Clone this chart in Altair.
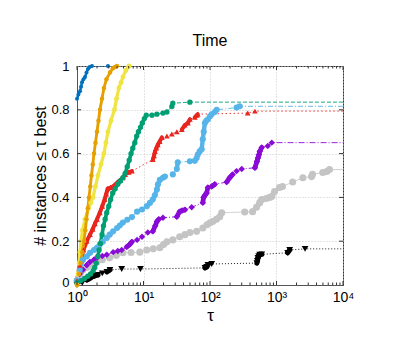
import math
import altair as alt
import pandas as pd

# ---------------- data ----------------
names = ["gray", "black", "purple", "sky", "red", "green", "yellow", "orange", "blue"]
colors = ["#c4c4c4", "#000000", "#8a0ad6", "#56b4e9", "#e8251e", "#009e73", "#f0e442", "#e69f00", "#0072bd"]
dashes = [[1, 0], [1, 2], [6, 2, 1, 2], [5, 2, 1, 2], [1.5, 2.5], [4, 2], [1, 0], [1, 0], [1, 0]]
shapes = ["circle", "triangle-down", "diamond", "circle", "triangle-up", "circle", "circle", "circle", "circle"]
point_sizes = [50, 16, 24, 50, 20, 20, 22, 22, 22]
band_widths = [5.5, 2.5, 4, 5.5, 4, 4.5, 5.5, 5.5, 4]

blue_tau = [1.0, 1.05, 1.11, 1.15, 1.19, 1.25, 1.32, 1.39, 1.46, 1.55, 1.68, 2.92]
blue_val = [0.85, 0.87, 0.885, 0.905, 0.926, 0.94, 0.95, 0.97, 0.986, 0.995, 1.0, 1.0]

orange_tau = [1.0, 1.072, 1.129, 1.201, 1.274, 1.332, 1.389, 1.453, 1.514, 1.584, 1.651, 1.727,
              1.8, 1.896, 1.997, 2.103, 2.215, 2.374, 2.544, 2.773, 3.13, 3.47, 3.72, 3.99]
orange_val = [0, .05, .1, .15, .2, .25, .3, .35, .4, .45, .5, .55,
              .6, .65, .7, .75, .8, .85, .9, .94, .97, .99, .995, 1.0]

yellow_tau = [1.0, 1.035, 1.072, 1.109, 1.148, 1.209, 1.319, 1.489, 1.61, 1.739, 1.896, 2.067,
              2.293, 2.544, 2.725, 2.921, 3.24, 3.66, 3.92, 4.27, 4.6, 4.91, 5.44, 6.04]
yellow_val = [0, .05, .1, .15, .2, .25, .3, .35, .375, .4, .45, .5,
              .55, .6, .65, .7, .75, .8, .85, .9, .925, .95, .98, 1.0]

green_tau = [1.0, 1.15, 1.3, 1.45, 1.6, 1.75, 1.85, 1.95, 2.05, 2.15, 2.25, 2.38, 2.5, 2.65, 2.8,
             3.0, 3.2, 3.45, 3.75, 4.1, 4.5, 4.9, 5.3, 5.7, 6.1, 6.5, 6.9, 7.4, 7.9, 8.4, 9.0,
             9.6, 10.3, 11.0, 13.4, 15.9, 19.6, 22.5, 26.7, 27.6, 49.8]
green_val = [0.01, 0.02, 0.03, 0.04, 0.05, 0.065, 0.08, 0.1, 0.13, 0.16, 0.19, 0.23, 0.27, 0.3, 0.33,
             0.36, 0.39, 0.42, 0.44, 0.46, 0.475, 0.49, 0.51, 0.54, 0.57, 0.6, 0.625, 0.65, 0.68, 0.7, 0.72,
             0.74, 0.76, 0.775, 0.775, 0.78, 0.785, 0.79, 0.815, 0.83, 0.835]

red_tau = [1.0, 1.1, 1.25, 1.4, 1.57, 1.72, 1.86, 2.0, 2.2, 2.4, 2.6, 2.75, 2.9, 3.2, 3.5, 3.8, 4.1,
           4.5, 4.9, 5.3, 6.0, 6.7, 13.8, 14.4, 14.9, 15.6, 16.4, 17.5, 18.9, 22.5, 26.7, 31.7, 37.7,
           41.9, 46.5, 49.8, 59.2, 63.3, 65.5, 369.0, 474.0]
red_val = [0.02, 0.09, 0.16, 0.2, 0.23, 0.255, 0.28, 0.3, 0.33, 0.36, 0.39, 0.415, 0.44, 0.445, 0.45,
           0.46, 0.47, 0.48, 0.49, 0.505, 0.515, 0.52, 0.573, 0.59, 0.61, 0.625, 0.64, 0.655, 0.674,
           0.68, 0.69, 0.70, 0.71, 0.73, 0.74, 0.757, 0.766, 0.775, 0.78, 0.785, 0.794]

sky_tau = [1.0, 1.1, 1.23, 1.4, 1.57, 1.8, 2.0, 2.2, 2.45, 2.8, 3.1, 3.5, 4.0, 4.4, 4.9, 5.7, 6.7,
           8.0, 9.5, 11.2, 12.5, 13.8, 14.8, 15.9, 16.5, 17.6, 19.6, 21.0, 27.6, 31.7, 32.8, 49.8,
           59.0, 63.0, 65.5, 70.0, 75.0, 77.8, 80.5, 83.7, 88.0, 93.0, 100.0, 106.0, 118.0, 126.0,
           251.0, 280.0]
sky_val = [0.02, 0.07, 0.115, 0.13, 0.147, 0.16, 0.17, 0.185, 0.197, 0.215, 0.23, 0.245, 0.26, 0.272,
           0.285, 0.298, 0.31, 0.335, 0.345, 0.36, 0.375, 0.39, 0.41, 0.436, 0.46, 0.48, 0.49, 0.495,
           0.505, 0.53, 0.56, 0.565, 0.567, 0.58, 0.596, 0.61, 0.62, 0.665, 0.7, 0.74, 0.75, 0.757,
           0.77, 0.78, 0.79, 0.80, 0.81, 0.816]

purple_tau = [1.0, 1.1, 1.23, 1.4, 1.57, 1.8, 2.0, 2.4, 2.8, 3.5, 4.1, 4.7, 5.6, 6.2, 6.7, 8.0, 9.5,
              11.6, 13.8, 15.0, 15.9, 17.0, 19.6, 31.7, 35.0, 38.0, 42.0, 53.0, 78.0, 80.0, 84.0,
              89.0, 93.0, 106.0, 118.0, 178.0, 198.0, 219.0, 251.0, 300.0, 474.0, 508.0, 526.0,
              545.0, 560.0, 600.0, 738.0, 849.0]
purple_val = [0.02, 0.05, 0.07, 0.09, 0.105, 0.115, 0.124, 0.132, 0.138, 0.15, 0.155, 0.16, 0.174,
              0.185, 0.197, 0.206, 0.22, 0.24, 0.245, 0.27, 0.29, 0.3, 0.307, 0.312, 0.335, 0.34,
              0.344, 0.355, 0.376, 0.40, 0.41, 0.42, 0.445, 0.45, 0.46, 0.47, 0.49, 0.505, 0.52,
              0.53, 0.535, 0.564, 0.58, 0.595, 0.61, 0.628, 0.635, 0.65]

gray_tau = [1.0, 1.1, 1.23, 1.4, 1.57, 1.8, 2.0, 2.4, 3.1, 3.9, 4.9, 6.5, 8.8, 11.2, 14.0, 17.6, 20.0,
            22.5, 27.6, 35.0, 42.0, 50.0, 63.0, 78.0, 90.0, 100.0, 110.0, 125.0, 140.0, 150.0, 333.0,
            437.0, 500.0, 560.0, 600.0, 700.0, 790.0, 849.0, 935.0, 1110.0, 1230.0, 1750.0, 2490.0,
            3360.0, 3480.0, 4970.0, 5700.0, 6260.0]
gray_val = [0.02, 0.045, 0.07, 0.08, 0.09, 0.1, 0.105, 0.115, 0.124, 0.135, 0.147, 0.148, 0.15, 0.16,
            0.165, 0.17, 0.185, 0.197, 0.206, 0.22, 0.23, 0.24, 0.245, 0.26, 0.275, 0.284, 0.29, 0.3,
            0.312, 0.33, 0.333, 0.335, 0.355, 0.376, 0.39, 0.395, 0.4, 0.404, 0.427, 0.445, 0.45,
            0.47, 0.49, 0.495, 0.505, 0.514, 0.518, 0.527]

black_tau = [1.0, 1.2, 1.41, 1.55, 1.68, 1.85, 2.07, 2.4, 2.82, 3.13, 4.7, 9.0, 84.0, 89.0, 93.0,
             106.0, 508.0, 515.0, 526.0, 540.0, 560.0, 600.0, 1470.0, 1580.0, 2690.0]
black_val = [0.0, 0.01, 0.023, 0.03, 0.037, 0.042, 0.046, 0.053, 0.06, 0.069, 0.073, 0.073, 0.078,
             0.083, 0.092, 0.096, 0.10, 0.11, 0.124, 0.132, 0.138, 0.14, 0.147, 0.16, 0.165]

x_ticks = [1, 10, 100, 1000, 10000]
x_labels = ["10⁰", "10¹", "10²", "10³", "10⁴"]
y_ticks = [0, 0.2, 0.4, 0.6, 0.8, 1.0]

series_data = {
    "gray": (gray_tau, gray_val), "black": (black_tau, black_val),
    "purple": (purple_tau, purple_val), "sky": (sky_tau, sky_val),
    "red": (red_tau, red_val), "green": (green_tau, green_val),
    "yellow": (yellow_tau, yellow_val), "orange": (orange_tau, orange_val),
    "blue": (blue_tau, blue_val),
}

# ---------------- tables ----------------
TAU_MAX = x_ticks[-1]
DENSE = 0.056
pt_rows, line_rows, seg_rows = [], [], []
for z, name in enumerate(names):
    taus, vals = series_data[name]
    for i, (t, v) in enumerate(zip(taus, vals)):
        pt_rows.append({"series": name, "tau": t, "v": v, "z": z})
        line_rows.append({"series": name, "tau": t, "v": v})
    if vals[-1] < 1.0:
        line_rows.append({"series": name, "tau": TAU_MAX, "v": vals[-1]})
    for i in range(len(taus) - 1):
        if math.log10(taus[i + 1]) - math.log10(taus[i]) < DENSE:
            sid = f"{name}-{i}"
            seg_rows.append({"series": name, "seg": sid, "tau": taus[i], "v": vals[i]})
            seg_rows.append({"series": name, "seg": sid, "tau": taus[i + 1], "v": vals[i + 1]})

pts = pd.DataFrame(pt_rows)
lines = pd.DataFrame(line_rows)
segs = pd.DataFrame(seg_rows)

minor = [k * 10 ** e for e in range(4) for k in range(2, 10)]
xmaj = pd.DataFrame({"tau": x_ticks})
xmin = pd.DataFrame({"tau": minor})
ymaj = pd.DataFrame({"v": y_ticks[1:-1]})

FONT = "Liberation Sans"
W, H = 266, 219

label_expr = "[" + ",".join(f"'{s}'" for s in x_labels) + "][round(log(datum.value)/LN10)]"

xscale = alt.Scale(type="log", domain=[1, TAU_MAX])
yscale = alt.Scale(domain=[0, 1])

x_enc = alt.X("tau:Q", scale=xscale, axis=alt.Axis(
    values=x_ticks, labelExpr=label_expr, labelFlush=False, title="τ",
    grid=True, gridDash=[1, 2], gridColor="#c8c8c8", ticks=False, tickSize=0,
    domain=True, domainColor="#555555", labelFontSize=14, labelPadding=5, labelFont=FONT,
    labelColor="#000000", titleFont=FONT, titleFontSize=17, titleFontWeight="normal",
    titleColor="#000000", titleY=30, titleBaseline="middle"))
y_enc = alt.Y("v:Q", scale=yscale, axis=alt.Axis(
    values=y_ticks, labelExpr="format(datum.value, '~g')", title="# instances ≤ τ best",
    grid=True, gridDash=[1, 2], gridColor="#c8c8c8", ticks=False, tickSize=0,
    domain=True, domainColor="#555555", labelFontSize=13, labelPadding=8, labelFont=FONT,
    labelColor="#000000", titleFont=FONT, titleFontSize=16, titleFontWeight="normal",
    titleColor="#000000", titleX=-37, titleY=H / 2, titleAngle=270,
    titleAlign="center", titleBaseline="middle",
    labelOffset={"condition": {"test": "datum.value == 0", "value": -3}, "value": 0}))

color = alt.Color("series:N", scale=alt.Scale(domain=names, range=colors), legend=None)

thin = alt.Chart(lines).mark_line(strokeWidth=0.9, clip=True).encode(
    x=x_enc, y=y_enc, color=color,
    strokeDash=alt.StrokeDash("series:N", scale=alt.Scale(domain=names, range=dashes), legend=None),
)
band = alt.Chart(segs).mark_line(strokeCap="round", strokeJoin="round").encode(
    x="tau:Q", y="v:Q", color=color, detail="seg:N",
    strokeWidth=alt.StrokeWidth("series:N", scale=alt.Scale(domain=names, range=band_widths), legend=None),
)
points = alt.Chart(pts).mark_point(filled=True, opacity=1).encode(
    x="tau:Q", y="v:Q", color=color,
    shape=alt.Shape("series:N", scale=alt.Scale(domain=names, range=shapes), legend=None),
    size=alt.Size("series:N", scale=alt.Scale(domain=names, range=point_sizes), legend=None),
    order="z:Q",
)

tick_color = "#333333"
xt_bot_maj = alt.Chart(xmaj).mark_rule(color=tick_color).encode(x="tau:Q", y=alt.value(H), y2=alt.value(H - 4))
xt_top_maj = alt.Chart(xmaj).mark_rule(color=tick_color).encode(x="tau:Q", y=alt.value(0), y2=alt.value(4))
xt_bot_min = alt.Chart(xmin).mark_rule(color=tick_color).encode(x="tau:Q", y=alt.value(H), y2=alt.value(H - 2.5))
xt_top_min = alt.Chart(xmin).mark_rule(color=tick_color).encode(x="tau:Q", y=alt.value(0), y2=alt.value(2.5))
yt_left = alt.Chart(ymaj).mark_rule(color=tick_color).encode(y="v:Q", x=alt.value(0), x2=alt.value(4))
yt_right = alt.Chart(ymaj).mark_rule(color=tick_color).encode(y="v:Q", x=alt.value(W), x2=alt.value(W - 4))

chart = alt.layer(
    thin, band, points,
    xt_bot_maj, xt_top_maj, xt_bot_min, xt_top_min, yt_left, yt_right,
).properties(
    width=W, height=H,
    title=alt.Title("Time", fontSize=16, fontWeight="normal", font=FONT, color="#000000", offset=11),
    autosize=alt.AutoSizeParams(type="none"),
    padding={"left": 69, "top": 58, "right": 50, "bottom": 50},
).configure_view(stroke="#333333", strokeWidth=1)

chart.save("out.html", embed_options={"renderer": "svg", "actions": False})
